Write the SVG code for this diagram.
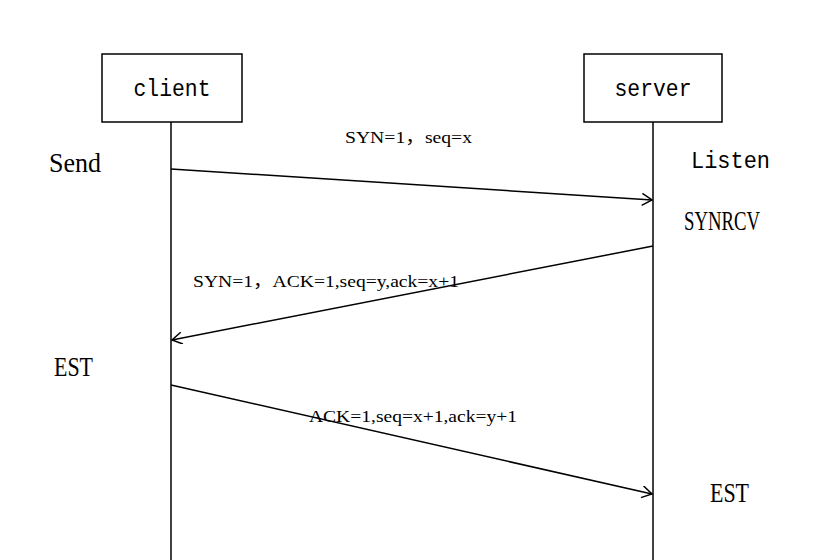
<svg xmlns="http://www.w3.org/2000/svg" width="822" height="560" viewBox="0 0 822 560">
<style>
.box{fill:#fff;stroke:#000;stroke-width:1.5}
.life{stroke:#000;stroke-width:1.5;fill:none}
.msg{stroke:#000;stroke-width:1.5;fill:none;marker-end:url(#arr)}
.mono{font-family:"Liberation Mono","DejaVu Sans Mono",monospace;font-size:24px;fill:#000}
.st{font-family:"Liberation Serif","Noto Sans CJK SC",serif;font-size:27px;fill:#000}
.lbl{font-family:"Liberation Serif","Noto Sans CJK SC",serif;font-size:17px;fill:#000}
</style>
<defs>
<marker id="arr" markerWidth="14" markerHeight="14" refX="11" refY="6" orient="auto" markerUnits="userSpaceOnUse">
<path d="M1,0 L11,6 L1,12" fill="none" stroke="#000" stroke-width="1.5"/>
</marker>
</defs>
<rect width="822" height="560" fill="#fff"/>
<g id="client">
<line class="life" x1="171" y1="122" x2="171" y2="560"/>
<rect class="box" x="102" y="54" width="140" height="68"/>
<text class="mono" x="172" y="96" text-anchor="middle" textLength="77" lengthAdjust="spacingAndGlyphs">client</text>
</g>
<g id="server">
<line class="life" x1="653" y1="122" x2="653" y2="560"/>
<rect class="box" x="584" y="54" width="138" height="68"/>
<text class="mono" x="653" y="96" text-anchor="middle" textLength="77" lengthAdjust="spacingAndGlyphs">server</text>
</g>
<g id="states">
<text class="st" x="49" y="172" textLength="52" lengthAdjust="spacingAndGlyphs">Send</text>
<text class="mono" x="691" y="168" textLength="79" lengthAdjust="spacingAndGlyphs">Listen</text>
<text class="st" x="684" y="230" textLength="76" lengthAdjust="spacingAndGlyphs">SYNRCV</text>
<text class="st" x="54" y="376" textLength="39" lengthAdjust="spacingAndGlyphs">EST</text>
<text class="st" x="710" y="502" textLength="39" lengthAdjust="spacingAndGlyphs">EST</text>
</g>
<g id="connectors">
<line class="msg" x1="171" y1="169" x2="652" y2="200"/>
<line class="msg" x1="653" y1="246" x2="172" y2="340"/>
<line class="msg" x1="171" y1="385" x2="652" y2="494"/>
</g>
<g id="labels">
<text class="lbl" x="345" y="143" textLength="127" lengthAdjust="spacingAndGlyphs">SYN=1，seq=x</text>
<text class="lbl" x="193" y="287" textLength="266" lengthAdjust="spacingAndGlyphs">SYN=1，ACK=1,seq=y,ack=x+1</text>
<text class="lbl" x="309" y="422" textLength="208" lengthAdjust="spacingAndGlyphs">ACK=1,seq=x+1,ack=y+1</text>
</g>
</svg>
